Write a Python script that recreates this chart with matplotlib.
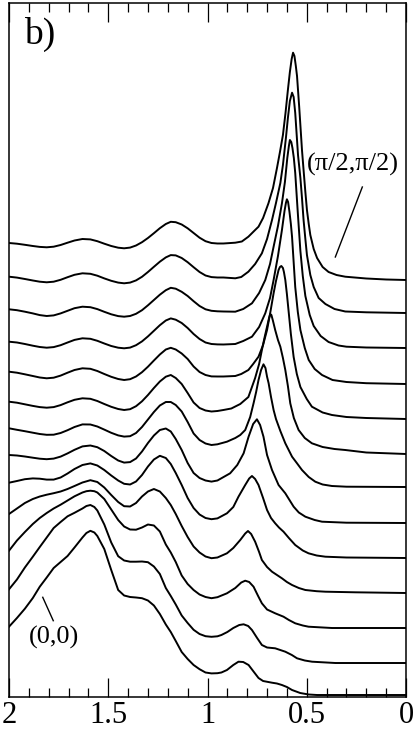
import numpy as np
import matplotlib
matplotlib.use("Agg")
import matplotlib.pyplot as plt
from matplotlib.ticker import MultipleLocator, FuncFormatter

plt.rcParams['font.family'] = ['Liberation Serif', 'DejaVu Serif']

# spectra, (energy, intensity) pairs,
# from the bottom (0,0) curve up to the top (pi/2,pi/2) curve
spec_0 = [(2.0, 68.3), (1.96, 77), (1.92, 86.3), (1.88, 97), (1.845, 108.3),
          (1.81, 117.5), (1.775, 127), (1.74, 133), (1.705, 139), (1.67, 147.5),
          (1.63, 157.5), (1.61, 162), (1.59, 164.2), (1.57, 162.5), (1.555, 159),
          (1.52, 146), (1.485, 125), (1.45, 105), (1.42, 99.5), (1.39, 98),
          (1.36, 97.5), (1.33, 96.8), (1.30, 94.5), (1.27, 89.5), (1.24, 81),
          (1.21, 70.5), (1.185, 63), (1.16, 54), (1.13, 43), (1.10, 36),
          (1.07, 30), (1.04, 25.8), (1.01, 22.5), (0.98, 21.6), (0.95, 21.8),
          (0.93, 22.5), (0.902, 25), (0.87, 30), (0.844, 33.3), (0.82, 33),
          (0.793, 30), (0.77, 24), (0.743, 17), (0.72, 14), (0.675, 12.3),
          (0.65, 11.5), (0.625, 10), (0.6, 8), (0.574, 5), (0.533, 2),
          (0.49, 0.5), (0.448, 0), (0.0, 0)]
spec_1 = [(2.0, 73.7), (1.96, 83.5), (1.92, 95.5), (1.88, 106.3), (1.845, 116),
          (1.81, 125.5), (1.775, 135), (1.74, 141), (1.705, 146.7), (1.67, 150.2),
          (1.63, 154.5), (1.61, 157), (1.59, 158), (1.57, 156), (1.555, 152.5),
          (1.52, 138.5), (1.485, 120.5), (1.45, 106.8), (1.42, 102.5), (1.39, 101.3),
          (1.36, 101.3), (1.33, 101.5), (1.30, 100.8), (1.27, 96.5), (1.24, 89),
          (1.21, 75), (1.185, 67), (1.16, 58.5), (1.13, 47.5), (1.10, 40),
          (1.07, 33.2), (1.04, 29), (1.01, 26.8), (0.98, 26.2), (0.95, 26.7),
          (0.93, 28), (0.9, 31), (0.87, 35), (0.84, 38), (0.818, 38.7),
          (0.795, 37), (0.776, 33), (0.75, 25), (0.726, 18), (0.7, 15.5),
          (0.659, 14.7), (0.608, 11.3), (0.575, 8), (0.549, 4.7), (0.51, 2.5),
          (0.473, 1.3), (0.356, 0), (0.0, 0)]
spec_2 = [(2.0, 77.3), (1.96, 87.5), (1.92, 96), (1.88, 104), (1.845, 110),
          (1.81, 115), (1.775, 119.5), (1.74, 123.3), (1.705, 127.5), (1.67, 131.7),
          (1.63, 135.5), (1.61, 136.8), (1.59, 137.3), (1.57, 136.8), (1.555, 135.5),
          (1.52, 129), (1.485, 118.5), (1.45, 108), (1.42, 101.5), (1.39, 98.5),
          (1.36, 98.3), (1.33, 100.5), (1.30, 103.5), (1.27, 102.5), (1.24, 96.5),
          (1.21, 83.5), (1.185, 75.5), (1.16, 66), (1.13, 52.5), (1.10, 44),
          (1.07, 38), (1.04, 33.5), (1.01, 31), (0.98, 29.8), (0.95, 30.8),
          (0.902, 34.7), (0.86, 40), (0.83, 45.5), (0.81, 47.3), (0.79, 46),
          (0.768, 41.3), (0.745, 32), (0.726, 24.7), (0.7, 18.5), (0.659, 14.7),
          (0.617, 11.3), (0.59, 8), (0.558, 4.7), (0.52, 2.5), (0.491, 1.3),
          (0.373, 0), (0.0, 0)]
spec_3 = [(2.0, 79), (1.96, 84.5), (1.92, 90), (1.88, 94), (1.845, 96.5),
          (1.81, 98.3), (1.775, 99.8), (1.74, 101.5), (1.705, 104), (1.67, 107),
          (1.63, 110.5), (1.59, 112.8), (1.555, 111), (1.52, 105.5), (1.485, 98),
          (1.45, 91), (1.42, 86.8), (1.39, 86.5), (1.36, 90), (1.33, 96.5),
          (1.30, 101.5), (1.27, 104), (1.24, 101.5), (1.21, 95), (1.185, 88),
          (1.16, 79), (1.13, 67), (1.10, 56), (1.07, 46.5), (1.04, 40.5),
          (1.01, 36.5), (0.98, 34.8), (0.95, 35.5), (0.902, 39.7), (0.87, 45),
          (0.835, 53), (0.81, 59.5), (0.796, 62), (0.78, 59), (0.76, 51.3),
          (0.74, 41), (0.726, 33), (0.7, 26), (0.675, 21.3), (0.65, 18),
          (0.625, 14.7), (0.6, 11), (0.574, 8), (0.54, 5), (0.507, 3),
          (0.45, 1.8), (0.406, 1.3), (0.255, 0.7), (0.0, 0)]
spec_4 = [(2.0, 75.3), (1.96, 77), (1.92, 78.8), (1.88, 79.6), (1.845, 79.3),
          (1.81, 78.4), (1.775, 78.4), (1.74, 80.5), (1.705, 84.5), (1.67, 89),
          (1.63, 93), (1.59, 94.6), (1.555, 92.5), (1.52, 88), (1.485, 82.5),
          (1.45, 77.5), (1.42, 74.2), (1.39, 73.5), (1.36, 76.5), (1.33, 83),
          (1.30, 91.5), (1.27, 98.5), (1.24, 102.2), (1.21, 100), (1.185, 94),
          (1.16, 85), (1.13, 73), (1.10, 60), (1.07, 50), (1.04, 43.5),
          (1.01, 40), (0.98, 38.8), (0.95, 39.6), (0.902, 44.7), (0.87, 51),
          (0.844, 61.3), (0.81, 73), (0.79, 79.5), (0.776, 82), (0.76, 79),
          (0.743, 73), (0.72, 60), (0.7, 48), (0.68, 40), (0.659, 34.7),
          (0.64, 30.5), (0.617, 26.3), (0.59, 20), (0.558, 13), (0.52, 7.5),
          (0.491, 4.7), (0.45, 2.5), (0.406, 1.3), (0.3, 0.5), (0.0, 0)]
spec_5 = [(2.0, 68), (1.96, 67.5), (1.92, 66.5), (1.88, 65.3), (1.845, 64.3),
          (1.81, 63.8), (1.775, 64.4), (1.74, 66.4), (1.705, 69.6), (1.67, 73.2),
          (1.63, 76.6), (1.59, 77.5), (1.555, 75.8), (1.52, 72), (1.485, 67),
          (1.45, 62.5), (1.42, 60.4), (1.39, 60.9), (1.36, 64.5), (1.33, 71.5),
          (1.30, 80), (1.27, 87.5), (1.24, 93), (1.21, 94.5), (1.185, 91.5),
          (1.16, 84), (1.13, 73), (1.10, 60), (1.07, 50), (1.04, 45),
          (1.01, 42.5), (0.98, 41.4), (0.95, 42.5), (0.886, 49.7), (0.85, 58),
          (0.818, 69.7), (0.793, 86.3), (0.77, 99), (0.751, 103.7), (0.735, 98),
          (0.718, 86.3), (0.7, 68), (0.675, 53), (0.642, 38), (0.608, 29.7),
          (0.566, 16.3), (0.54, 10.5), (0.507, 6.3), (0.46, 3), (0.423, 1.3),
          (0.3, 0.3), (0.0, 0)]
spec_6 = [(2.0, 58.7), (1.96, 57.2), (1.92, 55.8), (1.88, 54.3), (1.845, 53),
          (1.81, 52.2), (1.775, 52.3), (1.74, 54), (1.705, 56.8), (1.67, 60),
          (1.63, 62.6), (1.59, 62.5), (1.555, 60.5), (1.52, 57.4), (1.485, 54.2),
          (1.45, 51.6), (1.42, 50.4), (1.39, 50.8), (1.36, 54), (1.33, 60),
          (1.30, 67.5), (1.27, 75), (1.24, 81.5), (1.21, 85), (1.185, 85),
          (1.16, 82), (1.13, 75.5), (1.10, 65), (1.07, 53.5), (1.04, 47),
          (1.01, 43.5), (0.98, 42), (0.95, 42.7), (0.902, 45.3), (0.86, 49),
          (0.835, 52), (0.81, 57), (0.785, 70), (0.768, 83.7), (0.755, 95),
          (0.743, 107), (0.73, 117), (0.718, 122.7), (0.708, 119), (0.7, 110.3),
          (0.692, 103.7), (0.68, 90), (0.667, 77), (0.655, 68), (0.633, 56),
          (0.608, 43.7), (0.574, 30.3), (0.549, 23.7), (0.524, 17), (0.49, 10),
          (0.457, 5.3), (0.42, 2.5), (0.373, 1), (0.3, 0.3), (0.0, 0)]
spec_7 = [(2.0, 52.3), (1.96, 51.3), (1.92, 49.7), (1.88, 48.1), (1.845, 46.9),
          (1.81, 46.3), (1.775, 46.9), (1.74, 48.9), (1.705, 51.7), (1.67, 54.2),
          (1.63, 55.7), (1.59, 55.2), (1.555, 53), (1.52, 50), (1.485, 47.2),
          (1.45, 45), (1.42, 44), (1.39, 44.8), (1.36, 47.8), (1.33, 52.7),
          (1.30, 59), (1.27, 66), (1.24, 72.5), (1.21, 77.3), (1.185, 79),
          (1.16, 76), (1.13, 70), (1.10, 61), (1.07, 51.5), (1.04, 46),
          (1.01, 43.5), (0.98, 42.5), (0.95, 43), (0.92, 44), (0.88, 45.5),
          (0.835, 50), (0.794, 57), (0.76, 76), (0.74, 90), (0.726, 104),
          (0.712, 117), (0.7, 127.3), (0.69, 136), (0.684, 140), (0.678, 139),
          (0.67, 133), (0.659, 124), (0.645, 114), (0.633, 107.3), (0.62, 96),
          (0.608, 84), (0.595, 68), (0.583, 50.7), (0.565, 36), (0.541, 24),
          (0.51, 16), (0.474, 10.7), (0.42, 7), (0.36, 5), (0.306, 4),
          (0.2, 1.5), (0.0, 0)]
spec_8 = [(2.0, 47.3), (1.96, 46.3), (1.92, 44.7), (1.88, 43), (1.845, 41.5),
          (1.81, 40.7), (1.775, 41.3), (1.74, 43.4), (1.705, 46.3), (1.67, 49),
          (1.63, 50.7), (1.59, 50.2), (1.555, 48), (1.52, 45), (1.485, 42.2),
          (1.45, 40), (1.42, 39), (1.39, 39.8), (1.36, 42.5), (1.33, 46.8),
          (1.30, 52.3), (1.27, 58.5), (1.24, 64.5), (1.21, 69.5), (1.185, 71.2),
          (1.16, 69.5), (1.13, 65.5), (1.10, 60), (1.07, 52.5), (1.04, 47),
          (1.01, 44), (0.98, 42.6), (0.95, 42.5), (0.92, 42.5), (0.86, 43),
          (0.83, 45), (0.794, 49), (0.77, 55), (0.743, 62.3), (0.72, 74),
          (0.7, 89), (0.685, 105), (0.667, 125.7), (0.655, 138), (0.642, 149),
          (0.635, 152), (0.628, 153), (0.62, 151), (0.615, 147), (0.608, 139),
          (0.6, 125), (0.592, 109), (0.58, 85), (0.566, 62), (0.55, 45),
          (0.532, 32), (0.5, 20), (0.474, 12.3), (0.42, 6.5), (0.373, 4),
          (0.3, 2), (0.2, 1), (0.0, 0)]
spec_9 = [(2.0, 42.3), (1.96, 41.5), (1.92, 40), (1.88, 38.3), (1.845, 37),
          (1.81, 36.3), (1.775, 36.9), (1.74, 38.8), (1.705, 41.5), (1.67, 44.1),
          (1.63, 45.7), (1.59, 45.2), (1.555, 43.2), (1.52, 40.5), (1.485, 38),
          (1.45, 36.3), (1.42, 35.7), (1.39, 36.4), (1.36, 38.8), (1.33, 42.6),
          (1.30, 47.6), (1.27, 53.2), (1.24, 58.8), (1.21, 63.5), (1.185, 65.6),
          (1.16, 64.3), (1.13, 61), (1.10, 56), (1.07, 50), (1.04, 45),
          (1.01, 41.5), (0.98, 40), (0.95, 39.6), (0.92, 39.5), (0.86, 40),
          (0.82, 43), (0.776, 47.3), (0.74, 57), (0.709, 70.7), (0.685, 86),
          (0.667, 104), (0.645, 128), (0.625, 154), (0.612, 173), (0.605, 181),
          (0.6, 184.7), (0.594, 182), (0.587, 172), (0.58, 160), (0.574, 147),
          (0.566, 122), (0.558, 97), (0.545, 72), (0.532, 54), (0.51, 36),
          (0.49, 24), (0.46, 15), (0.423, 9), (0.37, 4), (0.3, 2),
          (0.2, 0.8), (0.0, 0)]
spec_10 = [(2.0, 38.7), (1.96, 37.8), (1.92, 36.3), (1.88, 34.6), (1.845, 32.9),
           (1.81, 32), (1.775, 32.6), (1.74, 34.6), (1.705, 37.2), (1.67, 39.8),
           (1.63, 41.3), (1.59, 40.8), (1.555, 38.9), (1.52, 36.2), (1.485, 33.7),
           (1.45, 31.9), (1.42, 31.3), (1.39, 32), (1.36, 34.2), (1.33, 37.8),
           (1.30, 42.7), (1.27, 48), (1.24, 53.3), (1.21, 57.8), (1.185, 60.2),
           (1.16, 59.3), (1.13, 56.2), (1.10, 52), (1.07, 46.8), (1.04, 42),
           (1.01, 38.7), (0.98, 37.2), (0.95, 36.7), (0.92, 36.5), (0.86, 36.3),
           (0.82, 39), (0.776, 44.7), (0.74, 55), (0.709, 68), (0.685, 84),
           (0.667, 101.3), (0.645, 122), (0.625, 144.7), (0.61, 166), (0.598, 190),
           (0.59, 202), (0.585, 208), (0.578, 206), (0.572, 200), (0.565, 190),
           (0.558, 175), (0.545, 135), (0.532, 97), (0.52, 72), (0.507, 52),
           (0.485, 33), (0.465, 22), (0.43, 12), (0.39, 6), (0.34, 2.5),
           (0.3, 1.3), (0.2, 0.5), (0.0, 0)]
spec_11 = [(2.0, 36.3), (1.96, 35.4), (1.92, 34), (1.88, 32.5), (1.845, 31.3),
           (1.81, 30.7), (1.775, 31.3), (1.74, 33.2), (1.705, 35.8), (1.67, 38.2),
           (1.63, 39.7), (1.59, 39.2), (1.555, 37.3), (1.52, 34.6), (1.485, 32.2),
           (1.45, 30.4), (1.42, 29.7), (1.39, 30.4), (1.36, 32.6), (1.33, 36.2),
           (1.30, 41), (1.27, 46.2), (1.24, 51.3), (1.21, 55.6), (1.185, 57.9),
           (1.16, 57.6), (1.13, 55), (1.10, 50.8), (1.07, 45.8), (1.04, 41),
           (1.01, 37.5), (0.98, 35.9), (0.95, 35.5), (0.92, 35.5), (0.86, 34.7),
           (0.83, 36), (0.794, 41.3), (0.76, 49), (0.726, 59.7), (0.7, 74),
           (0.675, 93), (0.655, 110), (0.633, 130), (0.62, 148), (0.605, 175),
           (0.595, 195), (0.585, 212), (0.574, 220.3), (0.566, 216), (0.558, 200),
           (0.552, 182), (0.544, 158), (0.532, 135), (0.524, 115), (0.516, 93),
           (0.507, 74), (0.499, 58), (0.482, 38), (0.465, 26), (0.44, 15),
           (0.406, 9), (0.36, 4), (0.306, 1.5), (0.2, 0.7), (0.0, 0)]
spec_12 = [(2.0, 37), (1.96, 36.3), (1.92, 35.2), (1.88, 34), (1.845, 33.1),
           (1.81, 32.7), (1.775, 33.3), (1.74, 35), (1.705, 37.3), (1.67, 39.5),
           (1.63, 41), (1.59, 40.6), (1.555, 38.8), (1.52, 36.3), (1.485, 34),
           (1.45, 32.3), (1.42, 31.7), (1.39, 32.4), (1.36, 34.5), (1.33, 37.8),
           (1.30, 42), (1.27, 46.8), (1.24, 51.8), (1.21, 56), (1.185, 58.2),
           (1.16, 57.8), (1.13, 55.5), (1.10, 51.7), (1.07, 47), (1.04, 42.3),
           (1.01, 38.8), (0.98, 37), (0.95, 36.5), (0.92, 36.5), (0.86, 37.3),
           (0.827, 38.5), (0.794, 43.3), (0.76, 50), (0.743, 53.3), (0.72, 62),
           (0.693, 76.7), (0.67, 92), (0.65, 112), (0.635, 128), (0.62, 145),
           (0.607, 167), (0.595, 190), (0.585, 208), (0.576, 221), (0.569, 227.3),
           (0.562, 224), (0.555, 214), (0.549, 204), (0.538, 173), (0.524, 130),
           (0.516, 110), (0.507, 88), (0.499, 70), (0.49, 56), (0.482, 45),
           (0.465, 31), (0.448, 22), (0.42, 13), (0.39, 8), (0.35, 5),
           (0.306, 3.3), (0.2, 1.5), (0.1, 0.5), (0.0, 0)]

spectra = [spec_0, spec_1, spec_2, spec_3, spec_4, spec_5, spec_6,
           spec_7, spec_8, spec_9, spec_10, spec_11, spec_12]
# vertical shift of each curve (right-hand baseline)
offsets = [2, 34, 69, 104, 139, 174, 210, 243, 278, 313, 349, 384, 417]

fig = plt.figure(figsize=(4.15, 7.30), dpi=100)
ax = fig.add_axes([0.0217, 0.0452, 0.9566, 0.9507])

for spec, off in zip(spectra, offsets):
    d = np.array(spec)
    ax.plot(d[:, 0], d[:, 1] + off, color='black', lw=1.4,
            solid_joinstyle='round')

ax.set_xlim(2, 0)
ax.set_ylim(0, 694)

ax.xaxis.set_major_locator(MultipleLocator(0.5))
ax.xaxis.set_minor_locator(MultipleLocator(0.1))
ax.xaxis.set_major_formatter(FuncFormatter(lambda v, p: '%g' % v))
ax.set_yticks([])
ax.tick_params(axis='x', which='both', direction='in', top=True,
               bottom=True, width=0.9, labelsize=22, pad=3)
ax.tick_params(axis='x', which='major', length=13.7)
ax.tick_params(axis='x', which='minor', length=6.5)
for s in ax.spines.values():
    s.set_linewidth(1.1)

ax.text(0.078, 0.954, 'b)', transform=ax.transAxes, fontsize=27,
        ha='center', va='center')
ax.text(0.8665, 0.768, '(\u03c0/2,\u03c0/2)', transform=ax.transAxes,
        fontsize=19, ha='center', va='center')
ax.plot([0.22, 0.356], [510, 440], color='black', lw=1.0)
ax.text(0.113, 0.0857, '(0,0)', transform=ax.transAxes, fontsize=19,
        ha='center', va='center')
ax.plot([1.83, 1.777], [99.7, 76.3], color='black', lw=1.0)

fig.savefig('out.png', dpi=100)
